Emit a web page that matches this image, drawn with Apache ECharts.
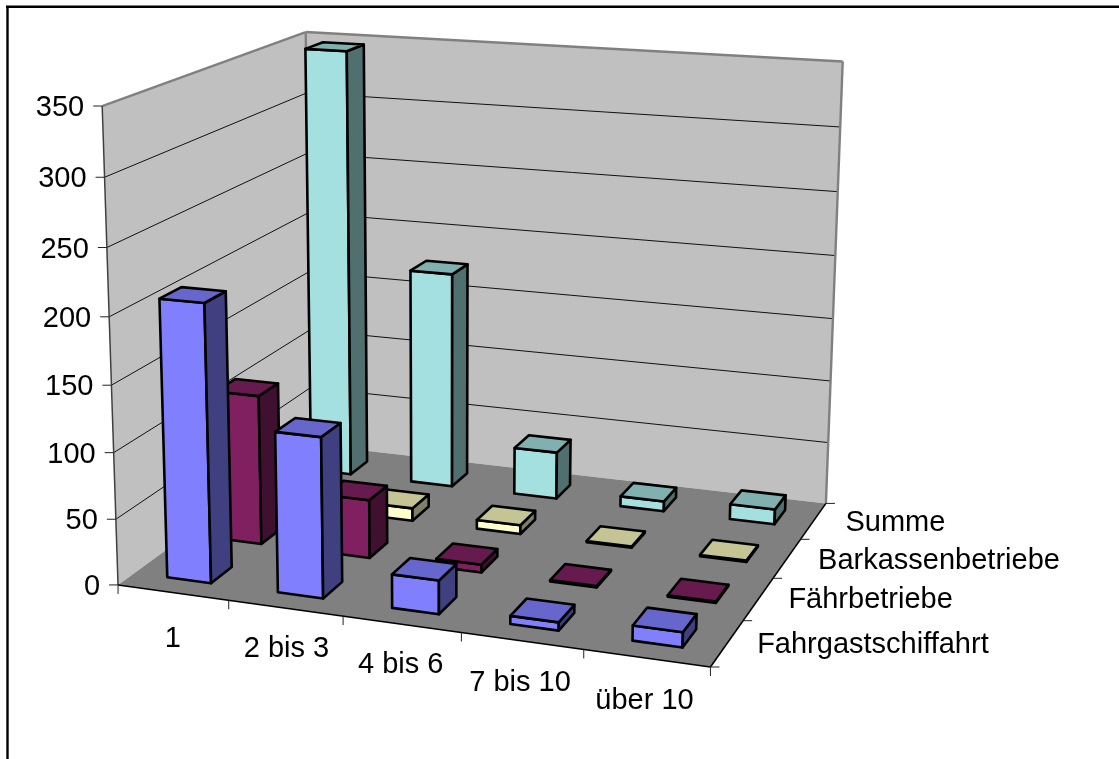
<!DOCTYPE html>
<html>
<head>
<meta charset="utf-8">
<style>html,body{margin:0;padding:0;background:#fff}#chart{width:1119px;height:759px}</style>
<script src="https://cdn.jsdelivr.net/npm/echarts@6/dist/echarts.min.js"></script>
</head>
<body>
<div id="chart"></div>
<script>
// Chart values
const categories = ['1', '2 bis 3', '4 bis 6', '7 bis 10', 'über 10'];
const depthLabels = ['Fahrgastschiffahrt', 'Fährbetriebe', 'Barkassenbetriebe', 'Summe'];
const fahrgastschiffahrt = [209, 120, 25, 6, 11];
const faehrbetriebe = [116, 45, 6, 1, 1];
const barkassenbetriebe = [22, 10, 7, 1, 1];
const summe = [347, 175, 38, 8, 12];
const valueTicks = [0, 50, 100, 150, 200, 250, 300, 350];

// Face colours per depth row: front, top, side
const rowColors = [
  ['#8080FF', '#6666CC', '#404080'],
  ['#802060', '#661A4D', '#401030'],
  ['#FFFFCC', '#C4C494', '#808066'],
  ['#A4E0E0', '#80B0B0', '#507070']
];
const FONT = '29px "Liberation Sans", Arial, sans-serif';

// Known box positions (u along categories, v along depth, w along values) -> screen
const anchors = [
  [0,0,0,120,585],[1,0,0,709,667],[1,1,0,826,503],[0,1,0,308,444],
  [0,0,1,100.7,105],[0,1,1,307.7,32.7],[1,1,1,842.3,62.3],
  [0,0,1/7,117.3,520],[0,0,2/7,115,453],[0,0,3/7,111.7,385],[0,0,4/7,109.3,316],
  [0,0,5/7,106.7,247.7],[0,0,6/7,103.3,176.7],
  [.2,0,0,228.3,600.7],[.4,0,0,343.3,616.7],[.6,0,0,460,633.5],
  [1,.25,0,743,620],[1,.5,0,773,578],[1,.75,0,803,539]
];

// Least-squares fit of a projective camera to the anchors
function fitCamera(pts) {
  const n = 11, A = [], b = [];
  pts.forEach(([u, v, w, px, py]) => {
    const x = px / 1000, y = py / 1000;
    A.push([u, v, w, 1, 0, 0, 0, 0, -x * u, -x * v, -x * w]); b.push(x);
    A.push([0, 0, 0, 0, u, v, w, 1, -y * u, -y * v, -y * w]); b.push(y);
  });
  const M = [];
  for (let i = 0; i < n; i++) {
    M.push([]);
    for (let j = 0; j < n; j++) M[i].push(A.reduce((s, r) => s + r[i] * r[j], 0));
    M[i].push(A.reduce((s, r, k) => s + r[i] * b[k], 0));
  }
  for (let c = 0; c < n; c++) {
    let p = c;
    for (let r = c + 1; r < n; r++) if (Math.abs(M[r][c]) > Math.abs(M[p][c])) p = r;
    [M[c], M[p]] = [M[p], M[c]];
    for (let r = 0; r < n; r++) {
      if (r === c) continue;
      const f = M[r][c] / M[c][c];
      for (let k = c; k <= n; k++) M[r][k] -= f * M[c][k];
    }
  }
  return M.map((r, i) => r[n] / r[i]);
}
const cam = fitCamera(anchors);
function project(u, v, w) {
  const d = cam[8] * u + cam[9] * v + cam[10] * w + 1;
  return [
    1000 * (cam[0] * u + cam[1] * v + cam[2] * w + cam[3]) / d,
    1000 * (cam[4] * u + cam[5] * v + cam[6] * w + cam[7]) / d
  ];
}

const BAR = 0.4; // bar share of its cell, in both directions
const EDGE = 2.6;

function line(a, b, stroke, lineWidth) {
  return { type: 'line', shape: { x1: a[0], y1: a[1], x2: b[0], y2: b[1] }, style: { stroke, lineWidth } };
}
function poly(points, fill, stroke, lineWidth) {
  return { type: 'polygon', shape: { points }, style: { fill, stroke, lineWidth, lineJoin: 'round' } };
}
function label(text, x, y, align) {
  return { type: 'text', style: { text, x, y, font: FONT, fill: '#000', align, verticalAlign: 'middle' } };
}

// Walls, floor, gridlines, ticks and all axis text
function renderScene(params, api) {
  const cs = params.coordSys;
  const wOf = t => 1 - (api.coord([0, t])[1] - cs.y) / cs.height;
  const kids = [];
  const outline = '#808080';
  kids.push(poly([project(0,0,0), project(0,1,0), project(0,1,1), project(0,0,1)], '#C0C0C0', null, 0));
  kids.push(poly([project(0,1,0), project(1,1,0), project(1,1,1), project(0,1,1)], '#C0C0C0', null, 0));
  valueTicks.slice(1, -1).forEach(t => {
    const w = wOf(t);
    kids.push(line(project(0,0,w), project(0,1,w), '#111', 1));
    kids.push(line(project(0,1,w), project(1,1,w), '#111', 1));
  });
  kids.push(poly([project(0,0,0), project(1,0,0), project(1,1,0), project(0,1,0)], '#808080', null, 0));
  kids.push(line(project(0,0,1), project(0,1,1), outline, 2.4));
  kids.push(line(project(0,1,1), project(1,1,1), outline, 2.4));
  kids.push(line(project(1,1,1), project(1,1,0), outline, 2.4));
  kids.push(line(project(0,1,1), project(0,1,0), outline, 2.4));
  kids.push(line(project(0,0,1), project(0,0,0), '#404040', 1.5));
  kids.push(line(project(0,0,0), project(1,0,0), '#000', 1.6));
  kids.push(line(project(1,0,0), project(1,1,0), '#000', 1.6));

  // value ticks and labels
  valueTicks.forEach(t => {
    const p = project(0, 0, wOf(t));
    kids.push(line([p[0] - 9, p[1]], p, '#222', 1));
    kids.push(label(String(t), p[0] - 18, p[1] + 2, 'right'));
  });
  // category ticks and labels
  const catOffset = [[0, 46], [1, 41], [-1, 41], [-2, 42], [-2, 43]];
  categories.forEach((c, i) => {
    const t = project(i / categories.length, 0, 0);
    kids.push(line(t, [t[0], t[1] + 9], '#222', 1));
    const p = project((i + .5) / categories.length, 0, 0);
    kids.push(label(c, p[0] + catOffset[i][0], p[1] + catOffset[i][1], 'center'));
  });
  const lastTick = project(1, 0, 0);
  kids.push(line(lastTick, [lastTick[0], lastTick[1] + 9], '#222', 1));
  // depth ticks and labels
  const depthOffset = [[30, 2], [30, 1], [31, 3], [32, 2]];
  depthLabels.forEach((c, i) => {
    const t = project(1, i / depthLabels.length, 0);
    kids.push(line(t, [t[0] + 9, t[1]], '#222', 1));
    const p = project(1, (i + .5) / depthLabels.length, 0);
    kids.push(label(c, p[0] + depthOffset[i][0], p[1] + depthOffset[i][1], 'left'));
  });
  const backTick = project(1, 1, 0);
  kids.push(line(backTick, [backTick[0] + 9, backTick[1]], '#222', 1));
  return { type: 'group', children: kids };
}

// One 3D bar: the category position and height come from the axes, the depth from the row
function renderBar(row) {
  return function (params, api) {
    const cs = params.coordSys;
    const base = api.coord([api.value(0), 0]);
    const top = api.coord([api.value(0), api.value(1)]);
    const cellU = api.size([1, 0])[0] / cs.width;
    const uc = (base[0] - cs.x) / cs.width;
    const wt = 1 - (top[1] - cs.y) / cs.height;
    const u0 = uc - cellU * BAR / 2, u1 = uc + cellU * BAR / 2;
    const cellV = 1 / depthLabels.length;
    const v0 = (row + (1 - BAR) / 2) * cellV, v1 = (row + (1 + BAR) / 2) * cellV;
    const [front, topFace, side] = rowColors[row];
    return {
      type: 'group',
      children: [
        poly([project(u0,v0,0), project(u1,v0,0), project(u1,v0,wt), project(u0,v0,wt)], front, '#000', EDGE),
        poly([project(u1,v0,0), project(u1,v1,0), project(u1,v1,wt), project(u1,v0,wt)], side, '#000', EDGE),
        poly([project(u0,v0,wt), project(u1,v0,wt), project(u1,v1,wt), project(u0,v1,wt)], topFace, '#000', EDGE)
      ]
    };
  };
}

const rows = [fahrgastschiffahrt, faehrbetriebe, barkassenbetriebe, summe];
const barSeries = [3, 2, 1, 0].map(row => ({
  type: 'custom',
  name: depthLabels[row],
  coordinateSystem: 'cartesian2d',
  clip: false,
  silent: true,
  encode: { x: 0, y: 1 },
  renderItem: renderBar(row),
  data: rows[row].map((v, i) => [i, v])
}));

const chart = echarts.init(document.getElementById('chart'), null, { renderer: 'canvas' });
chart.setOption({
  animation: false,
  backgroundColor: '#fff',
  grid: { left: 0, right: 0, top: 0, bottom: 0 },
  xAxis: { type: 'category', data: categories, show: false },
  yAxis: { type: 'value', min: 0, max: 350, interval: 50, show: false },
  graphic: [
    { type: 'line', shape: { x1: 7.5, y1: 6, x2: 7.5, y2: 759 }, style: { stroke: '#000', lineWidth: 2.4 } },
    { type: 'line', shape: { x1: 6, y1: 6.8, x2: 1119, y2: 6.8 }, style: { stroke: '#000', lineWidth: 2.4 } }
  ],
  series: [{
    type: 'custom',
    coordinateSystem: 'cartesian2d',
    clip: false,
    silent: true,
    z: 1,
    renderItem: renderScene,
    data: [[0, 0]]
  }].concat(barSeries.map(s => Object.assign(s, { z: 2 })))
});
</script>
</body>
</html>
